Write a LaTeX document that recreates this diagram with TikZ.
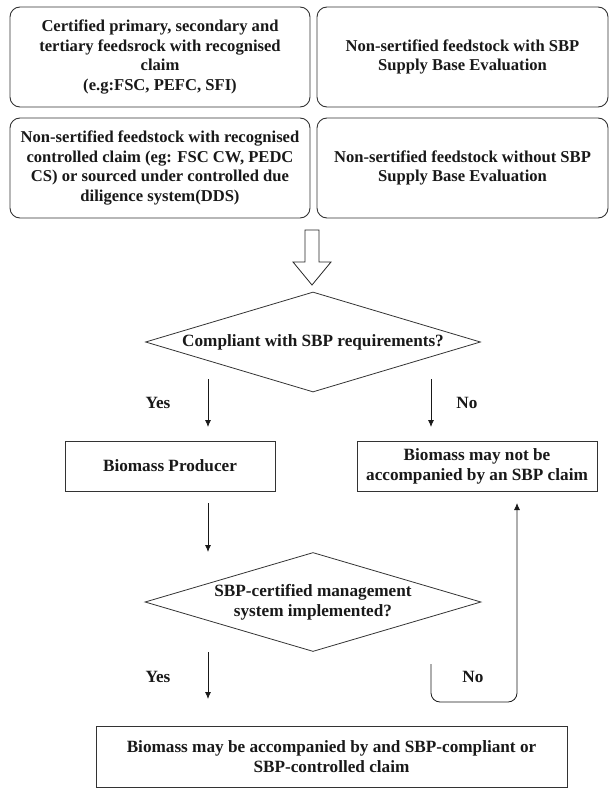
\documentclass[tikz,border=0pt]{standalone}
\usepackage{fontspec}
\setmainfont{Liberation Serif}
\usetikzlibrary{shapes.geometric,arrows.meta}
\begin{document}
\begin{tikzpicture}[x=1pt,y=-1pt,
 every node/.style={font=\bfseries\fontsize{17.2}{19.8}\selectfont, align=center, inner sep=0pt, text=black!90},
 topfont/.style={font=\bfseries\fontsize{16.6}{19.5}\selectfont},
 rbox/.style={draw=black!80, rounded corners=10pt, line width=0.9pt, topfont},
 sbox/.style={draw=black!80, line width=0.9pt},
 dia/.style={draw=black!80, diamond, line width=0.8pt, aspect=3.35},
 arr/.style={-{Latex[length=7pt,width=6pt]}, line width=0.8pt, draw=black!90},
 lnk/.style={line width=0.8pt, draw=black!90, rounded corners=9pt}]
\useasboundingbox (0,0) rectangle (610,789);

% top boxes
\node[rbox, minimum width=300pt, minimum height=100pt] (c1) at (160,57)
 {Certified primary, secondary and\\tertiary feedsrock with recognised\\claim\\(e.g:FSC, PEFC, SFI)};
\node[rbox, minimum width=291pt, minimum height=100pt] (c2) at (462.5,57)
 {Non-sertified feedstock with SBP\\Supply Base Evaluation};
\node[rbox, minimum width=300pt, minimum height=100pt] (c3) at (160,168)
 {Non-sertified feedstock with recognised\\controlled claim (eg: FSC CW, PEDC\\CS) or sourced under controlled due\\diligence system(DDS)};
\node[rbox, minimum width=291pt, minimum height=100pt] (c4) at (462.5,168)
 {Non-sertified feedstock without SBP\\Supply Base Evaluation};

% hollow arrow
\draw[line width=0.8pt, draw=black!85, line join=miter]
 (305,230) -- (305,262) -- (293,262) -- (312,285) -- (331,262) -- (319,262) -- (319,230) -- cycle;

% first decision
\node[dia, minimum width=335pt, minimum height=100pt] (d1) at (313,342) {Compliant with SBP requirements?};

\coordinate (y1s) at (208,379); \coordinate (y1e) at (208,427);
\coordinate (n1s) at (431,379); \coordinate (n1e) at (431,427);
\draw[arr] (y1s) -- (y1e);
\draw[arr] (n1s) -- (n1e);
\node (yes1) at (158,403) {Yes};
\node (no1) at (467,403) {No};

\node[sbox, minimum width=210pt, minimum height=50pt] (prod) at (170,466) {Biomass Producer};
\node[sbox, minimum width=240pt, minimum height=50pt] (nocl) at (477,466) {Biomass may not be\\accompanied by an SBP claim};

\coordinate (p1s) at (208,503); \coordinate (p1e) at (208,552);
\draw[arr] (p1s) -- (p1e);

% second decision
\node[dia, minimum width=336pt, minimum height=99pt] (d2) at (313,602) {SBP-certified management\\system implemented?};

\coordinate (y2s) at (208,652); \coordinate (y2e) at (208,699);
\draw[arr] (y2s) -- (y2e);
\node (yes2) at (158,677) {Yes};

\coordinate (n2s) at (431,664); \coordinate (n2e) at (517,503);
\draw[lnk, -{Latex[length=7pt,width=6pt]}] (n2s) -- (431,702) -- (517,702) -- (n2e);
\node (no2) at (473,677) {No};

\node[sbox, minimum width=471pt, minimum height=61pt] (yescl) at (331.5,756.5)
 {Biomass may be accompanied by and SBP-compliant or\\SBP-controlled claim};
\end{tikzpicture}
\end{document}
